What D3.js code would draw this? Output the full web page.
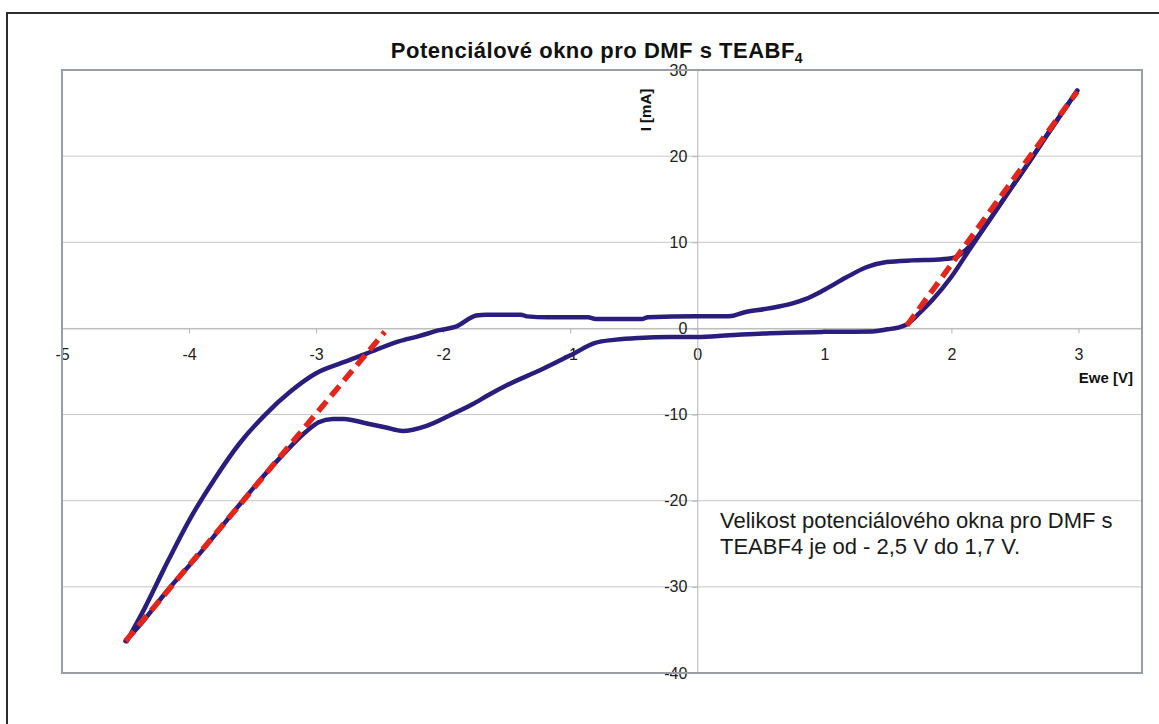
<!DOCTYPE html>
<html>
<head>
<meta charset="utf-8">
<script src="https://cdn.jsdelivr.net/npm/d3@7"></script>
<style>
  body { margin: 0; background: #fff; }
  svg text { font-family: "Liberation Sans", Arial, sans-serif; }
</style>
</head>
<body>
<div class="chart-container"></div>
<script>
// CV loop, in the order it is traced (Ewe [V], I [mA])
var ewe = [-4.50, -4.39, -4.18, -3.92, -3.66, -3.47, -3.27, -3.08, -2.98, -2.87, -2.78, -2.61, -2.45, -2.32, -2.13, -1.95, -1.77, -1.64, -1.50, -1.23, -0.97, -0.81, -0.64, -0.46, -0.22, 0.00, 0.25, 0.57, 0.99, 1.38, 1.50, 1.58, 1.64, 1.75, 1.85, 2.00, 2.14, 2.30, 2.48, 2.62, 2.75, 2.88, 2.99,
           2.88, 2.75, 2.62, 2.48, 2.30, 2.16, 2.07, 2.02, 1.90, 1.69, 1.49, 1.33, 1.17, 0.99, 0.85, 0.75, 0.55, 0.38, 0.25, 0.00, -0.39, -0.43, -0.80, -0.86, -1.18, -1.34, -1.39, -1.66, -1.74, -1.90, -2.03, -2.19, -2.35, -2.60, -2.80, -3.00, -3.20, -3.40, -3.60, -3.80, -4.00, -4.20, -4.35, -4.49];
var current = [-36.3, -34.5, -30.6, -26.2, -21.5, -18.1, -14.8, -12.0, -10.9, -10.5, -10.5, -11.0, -11.5, -11.9, -11.3, -10.1, -8.8, -7.7, -6.6, -4.8, -2.9, -1.7, -1.3, -1.1, -1.0, -1.0, -0.8, -0.55, -0.4, -0.35, -0.1, 0.1, 0.4, 1.8, 3.3, 6.0, 9.1, 12.6, 16.5, 19.5, 22.4, 25.2, 27.6,
               25.2, 22.4, 19.5, 16.5, 12.6, 9.8, 8.6, 8.2, 8.0, 7.9, 7.7, 7.1, 5.9, 4.4, 3.4, 2.9, 2.3, 1.9, 1.4, 1.4, 1.3, 1.1, 1.1, 1.3, 1.3, 1.4, 1.6, 1.6, 1.5, 0.2, -0.2, -0.9, -1.5, -2.9, -4.0, -5.2, -7.3, -10.0, -13.3, -17.5, -22.3, -28.0, -32.5, -36.3];

// tangent lines marking the window edges
var leftTangentX = [-4.50, -2.46];
var leftTangentY = [-36.3, -0.4];
var rightTangentX = [1.65, 2.99];
var rightTangentY = [0.35, 27.5];

var xTicks = [-5, -4, -3, -2, -1, 0, 1, 2, 3];
var yTicks = [-40, -30, -20, -10, 0, 10, 20, 30];

var titleText = "Potenciálové okno pro DMF s TEABF";
var noteLines = ["Velikost potenciálového okna pro DMF s", "TEABF4 je od - 2,5 V do 1,7 V."];

var W = 1159, H = 724;
var margin = {top: 70, right: 17, bottom: 51, left: 62},
    width = W - margin.left - margin.right,
    height = H - margin.top - margin.bottom;

var x = d3.scaleLinear().domain([-5, 3.5]).range([0, width]),
    y = d3.scaleLinear().domain([-40, 30]).range([height, 0]);

var svg = d3.select(".chart-container").append("svg")
    .attr("width", W)
    .attr("height", H);

// outer chart frame
svg.append("rect")
    .attr("x", 7).attr("y", 13)
    .attr("width", W + 20).attr("height", H + 20)
    .attr("fill", "none")
    .attr("stroke", "#2b2b2b")
    .attr("stroke-width", 2);

// title
var title = svg.append("text")
    .attr("x", 597).attr("y", 58)
    .attr("text-anchor", "middle")
    .style("font-weight", "bold")
    .style("font-size", "22px")
    .style("letter-spacing", "0.5px")
    .attr("fill", "#111");
title.append("tspan").text(titleText);
title.append("tspan").attr("dy", 5).style("font-size", "14px").text("4");

var focus = svg.append("g")
    .attr("transform", "translate(" + margin.left + "," + margin.top + ")");

// grid
focus.append("g").attr("class", "grid")
  .selectAll("line")
  .data(yTicks)
  .enter().append("line")
    .attr("x1", 0).attr("x2", width)
    .attr("y1", function(d) { return y(d); })
    .attr("y2", function(d) { return y(d); })
    .attr("stroke", "#c6c6c6")
    .attr("stroke-width", 1);

// axes crossing at zero
var plain = function(d) { return String(d); };
var xAxis = d3.axisBottom(x).tickValues(xTicks).tickSize(5).tickFormat(plain),
    yAxis = d3.axisLeft(y).tickValues(yTicks).tickSize(5).tickFormat(plain);

var gx = focus.append("g")
    .attr("class", "x axis")
    .attr("transform", "translate(0," + y(0) + ")")
    .call(xAxis);
gx.select(".domain").attr("stroke", "#b5b5b5");
gx.selectAll(".tick line").attr("stroke", "#b5b5b5");
gx.selectAll(".tick text")
    .attr("y", 20)
    .style("font-size", "16px")
    .attr("fill", "#222");

var gy = focus.append("g")
    .attr("class", "y axis")
    .attr("transform", "translate(" + x(0) + ",0)")
    .call(yAxis);
gy.select(".domain").attr("stroke", "#b5b5b5");
gy.selectAll(".tick line").attr("stroke", "#b5b5b5");
gy.selectAll(".tick text")
    .attr("x", -10)
    .style("font-size", "16px")
    .attr("fill", "#222");

// plot area border
focus.append("rect")
    .attr("width", width).attr("height", height)
    .attr("fill", "none")
    .attr("stroke", "#9a9ea2")
    .attr("stroke-width", 2);

// axis titles
focus.append("text")
    .attr("transform", "translate(" + (x(0) - 46) + "," + 40 + ") rotate(-90)")
    .attr("text-anchor", "middle")
    .style("font-weight", "bold")
    .style("font-size", "15px")
    .attr("fill", "#111")
    .text("I [mA]");

focus.append("text")
    .attr("x", width - 9).attr("y", y(0) + 55)
    .attr("text-anchor", "end")
    .style("font-weight", "bold")
    .style("font-size", "15px")
    .attr("fill", "#111")
    .text("Ewe [V]");

// data: split the loop at its turning point into two branches, both drawn left to right
var loop = ewe.map(function(v, i) { return {Date: v, val: current[i]}; });
var turn = d3.maxIndex(ewe);
var branches = [loop.slice(0, turn + 1), loop.slice(turn).reverse()];

var line = d3.line()
    .x(function(d) { return x(d.Date); })
    .y(function(d) { return y(d.val); })
    .curve(d3.curveMonotoneX);

focus.selectAll("path.line")
    .data(branches)
  .enter().append("path")
    .attr("class", "line")
    .attr("d", line)
    .attr("fill", "none")
    .attr("stroke", "#2a1d7c")
    .attr("stroke-width", 4.5)
    .attr("stroke-linejoin", "round")
    .attr("stroke-linecap", "round");

var tangents = [
  leftTangentX.map(function(v, i) { return {Date: v, val: leftTangentY[i]}; }),
  rightTangentX.map(function(v, i) { return {Date: v, val: rightTangentY[i]}; })
];

var straight = d3.line()
    .x(function(d) { return x(d.Date); })
    .y(function(d) { return y(d.val); });

focus.selectAll("path.tangent")
    .data(tangents)
  .enter().append("path")
    .attr("class", "tangent")
    .attr("d", straight)
    .attr("fill", "none")
    .attr("stroke", "#e2261c")
    .attr("stroke-width", 5.5)
    .attr("stroke-dasharray", "13,7");

// note
var note = svg.append("text")
    .style("font-size", "22px")
    .attr("fill", "#1a1a1a");
note.selectAll("tspan")
    .data(noteLines)
  .enter().append("tspan")
    .attr("x", 720)
    .attr("y", function(d, i) { return 528 + i * 26; })
    .text(function(d) { return d; });
</script>
</body>
</html>
